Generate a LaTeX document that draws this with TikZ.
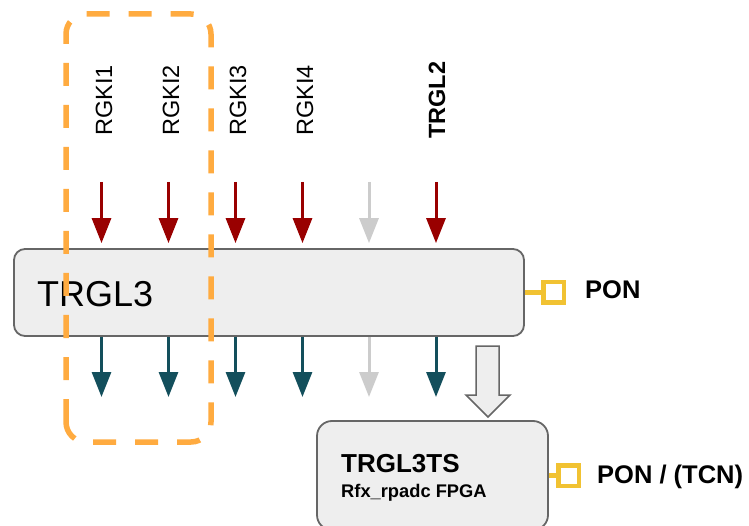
\documentclass[tikz,border=0pt]{standalone}
\usepackage{fontspec}
\setmainfont{Liberation Sans}
\usetikzlibrary{arrows.meta}
\definecolor{sigred}{HTML}{990000}
\definecolor{sigteal}{HTML}{134F5C}
\definecolor{siggray}{HTML}{CCCCCC}
\definecolor{grporange}{HTML}{FFAB40}
\definecolor{portyellow}{HTML}{F1C232}
\definecolor{boxfill}{HTML}{EEEEEE}
\definecolor{boxline}{HTML}{666666}
\tikzset{
  blockbox/.style={draw=boxline, fill=boxfill, line width=1.8pt, rounded corners=11pt, inner sep=0pt},
  sigarrow/.style={line width=3pt, -{Triangle[width=19pt,length=25pt]}},
  inarrow/.style={sigarrow, shorten >=5pt},
  siglabel/.style={rotate=90, anchor=base west, inner sep=0pt, font=\fontsize{23.5}{26}\selectfont},
  portbox/.style={draw=portyellow, fill=white, line width=4.5pt, minimum size=20.5pt, inner sep=0pt},
  portline/.style={draw=portyellow, line width=5pt},
  portlabel/.style={anchor=base west, inner sep=0pt, font=\bfseries\fontsize{25.5}{28}\selectfont},
}
\begin{document}
\begin{tikzpicture}[x=1pt,y=1pt]
\clip (0,0) rectangle (749,-526);
\fill[white] (0,0) rectangle (749,-526);

% main block
\node[blockbox, minimum width=510pt, minimum height=87pt] (main) at (269,-292.5) {};
\node[anchor=base west, inner sep=0pt, font=\fontsize{36}{40}\selectfont] (mainlbl) at (37,-307) {TRGL3};

% input and output arrows
\foreach \n/\x/\ci/\co in {1/101.5/sigred/sigteal, 2/168.5/sigred/sigteal, 3/235.5/sigred/sigteal, 4/302.5/sigred/sigteal, 5/369/siggray/siggray, 6/436/sigred/sigteal}{
  \coordinate (in\n) at (\x,-182);
  \draw[inarrow, draw=\ci, fill=\ci] (in\n) -- (in\n |- main.north);
  \coordinate (out\n) at (\x,-397);
  \draw[sigarrow, draw=\co, fill=\co] (out\n |- main.south) -- (out\n);
}

% labels
\node[siglabel] (l1) at (112,-136) {RGKI1};
\node[siglabel] (l2) at (179,-136) {RGKI2};
\node[siglabel] (l3) at (246,-136) {RGKI3};
\node[siglabel] (l4) at (313,-136) {RGKI4};
\node[siglabel, font=\bfseries\fontsize{23.5}{26}\selectfont] (l6) at (445,-139) {TRGL2};

% second block
\node[blockbox, rounded corners=15pt, minimum width=231pt, minimum height=109pt] (ts) at (432.5,-475.5) {};
\node[anchor=base west, inner sep=0pt, font=\bfseries\fontsize{26}{28}\selectfont] (tsname) at (341,-472) {TRGL3TS};
\node[anchor=base west, inner sep=0pt, font=\bfseries\fontsize{18.3}{20}\selectfont] (tssub) at (341,-497) {Rfx\_rpadc FPGA};

% hollow arrow
\draw[draw=boxline, fill=boxfill, line width=1.5pt, line join=miter]
  (476,-346) -- (499,-346) -- (499,-395) -- (510,-395) -- (488,-417) -- (466,-395) -- (476,-395) -- cycle;

% ports
\node[portbox] (p1) at (553.5,-292.5) {};
\draw[portline] (main.east) -- (p1.west);
\node[portlabel] (p1lbl) at (585,-299) {PON};
\node[portbox] (p2) at (568.5,-475.5) {};
\draw[portline] (ts.east) -- (p2.west);
\node[portlabel] (p2lbl) at (597,-483) {PON / (TCN)};

% group outline
\draw[grporange, line width=5.5pt, dash pattern=on 23pt off 19pt, rounded corners=20pt]
  (66,-442) rectangle (211,-14);
\end{tikzpicture}
\end{document}
